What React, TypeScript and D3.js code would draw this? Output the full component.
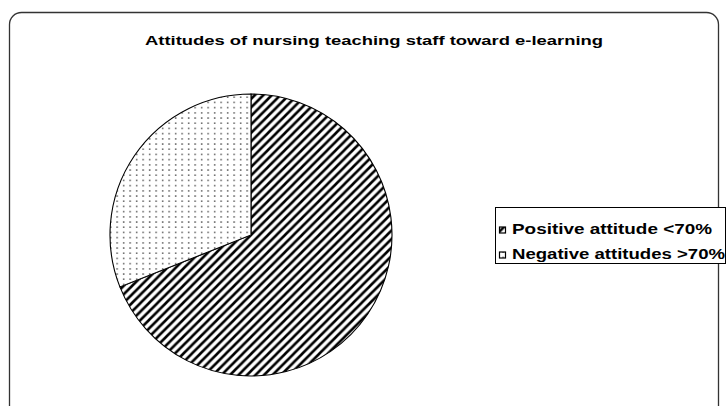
import * as d3 from 'd3'
import React from 'react'

const labels = ['Positive attitude <70%', 'Negative attitudes >70%']
const values = [69, 31]
const patterns = ['hatch', 'dots']
const title = 'Attitudes of nursing teaching staff toward e-learning'

const width = 728
const height = 406

const App = () => {
  const cx = 251
  const cy = 235
  const radius = 141

  const pie = d3
    .pie<number>()
    .sort(null)
    .value((d) => d)
  const arcs = pie(values)
  const arc = d3.arc<d3.PieArcDatum<number>>().innerRadius(0).outerRadius(radius)

  const legendY = d3.scaleBand<string>().domain(labels).range([212, 262])

  return (
    <svg
      width={width}
      height={height}
      style={{ position: 'absolute', left: 0, top: 0, background: '#fff' }}
      fontFamily="Liberation Sans, Arial, sans-serif"
    >
      <defs>
        <pattern id="hatch" patternUnits="userSpaceOnUse" width={8.5} height={8.5}>
          <rect width={8.5} height={8.5} fill="#fff" />
          <path d="M-1.5,1.5 l3,-3 M0,8.5 l8.5,-8.5 M7,10 l3,-3" stroke="#000" strokeWidth={2.6} />
        </pattern>
        <pattern id="dots" patternUnits="userSpaceOnUse" width={6.5} height={5.2}>
          <rect width={6.5} height={5.2} fill="#fff" />
          <rect x={2} y={2} width={1.3} height={1.3} fill="#222" />
        </pattern>
      </defs>

      {/* chart frame */}
      <rect x={9.5} y={12.5} width={709} height={410} rx={12} fill="none" stroke="#333" strokeWidth={1.3} />

      <text
        x={374}
        y={45}
        textAnchor="middle"
        fontSize={13}
        fontWeight="bold"
        textLength={458}
        lengthAdjust="spacingAndGlyphs"
      >
        {title}
      </text>

      <g transform={`translate(${cx},${cy})`}>
        {arcs.map((a, i) => (
          <path key={i} d={arc(a) ?? ''} fill={`url(#${patterns[i]})`} stroke="#000" strokeWidth={1.1} />
        ))}
      </g>

      {/* legend */}
      <rect x={495.5} y={207.5} width={230} height={56} fill="#fff" stroke="#000" strokeWidth={1} />
      {labels.map((l, i) => {
        const y = (legendY(l) ?? 0) + legendY.bandwidth() / 2
        return (
          <g key={l}>
            <rect x={499.5} y={y + 2.5} width={6} height={6} fill={`url(#${patterns[i]})`} stroke="#000" strokeWidth={1.2} />
            <text x={512} y={y + 9} fontSize={14.5} fontWeight="bold" textLength={i === 0 ? 200 : 213} lengthAdjust="spacingAndGlyphs">
              {l}
            </text>
          </g>
        )
      })}
    </svg>
  )
}

export default App
